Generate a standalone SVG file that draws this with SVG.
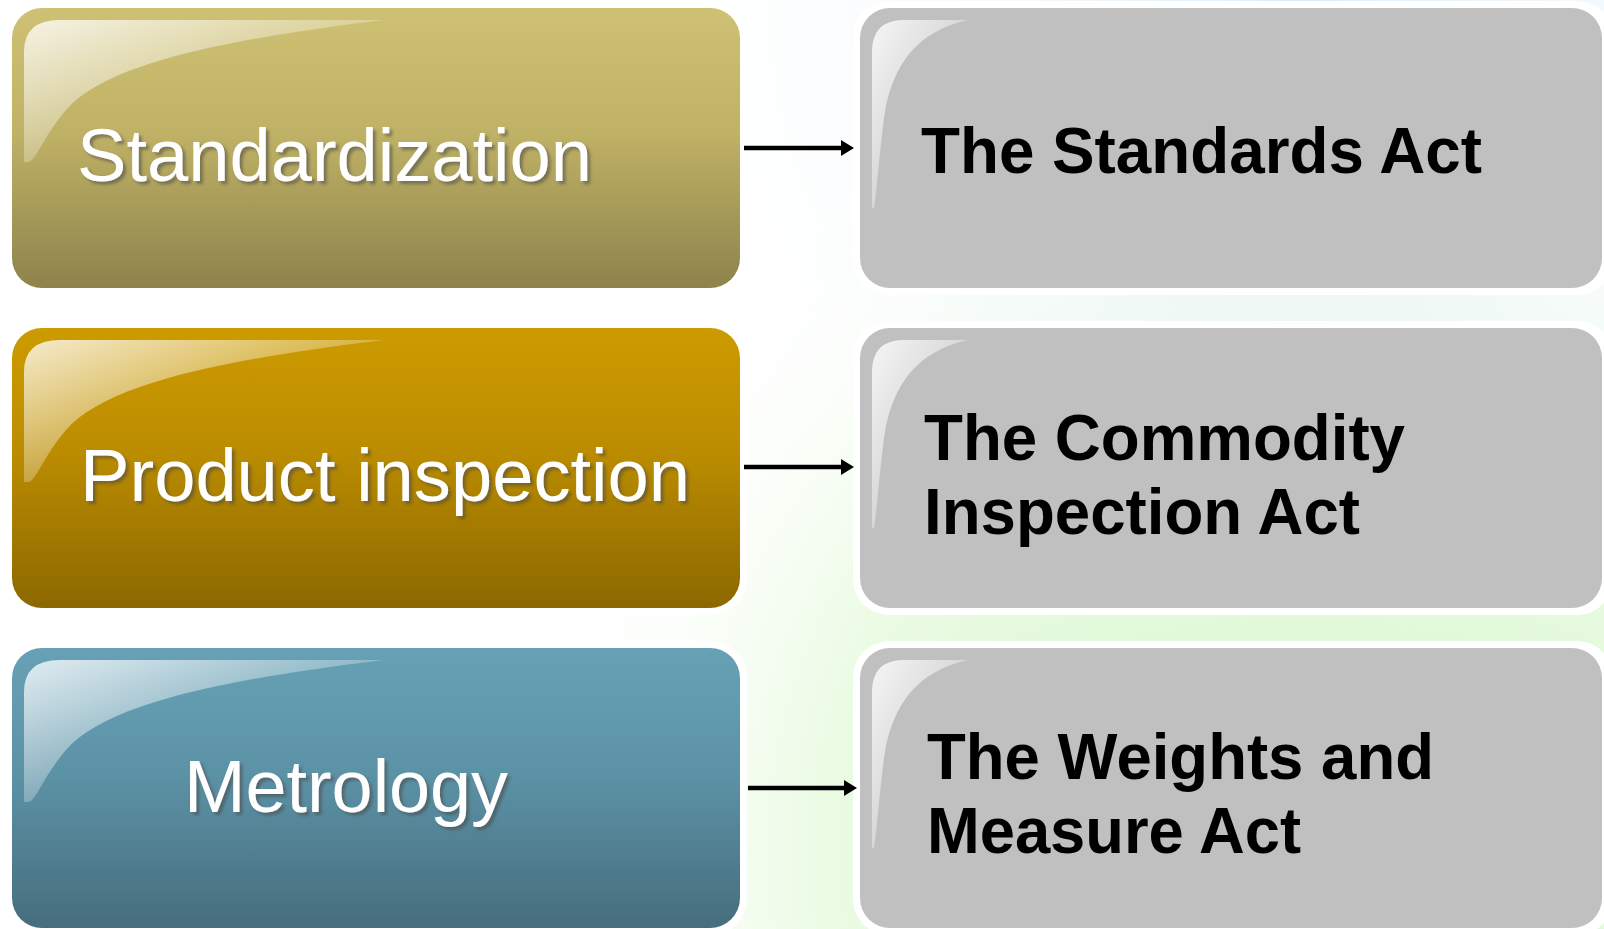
<svg xmlns="http://www.w3.org/2000/svg" width="1604" height="929" viewBox="0 0 1604 929">
<defs>
<style>
.lt{font-family:"Liberation Sans",Arial,sans-serif;font-size:75px;fill:#fff;filter:url(#sh)}
.rt{font-family:"Liberation Sans",Arial,sans-serif;font-size:64px;font-weight:bold;fill:#000}
.frame{fill:#fff}
.gray{fill:#c0c0c0}
.conn{stroke:#000;stroke-width:4.5;fill:none;marker-end:url(#ah)}
</style>
<filter id="sh" x="-5%" y="-20%" width="115%" height="150%">
<feDropShadow dx="3" dy="3" stdDeviation="1.5" flood-color="#4a4a4a" flood-opacity="0.55"/>
</filter>
<marker id="ah" markerUnits="userSpaceOnUse" markerWidth="13" markerHeight="16" refX="2" refY="8" orient="auto">
<path d="M0,0 L13,8 L0,16 Z" fill="#000"/>
</marker>
<linearGradient id="g1" x1="0" y1="0" x2="0" y2="1">
<stop offset="0" stop-color="#cfc174"/><stop offset="0.45" stop-color="#bfb165"/><stop offset="1" stop-color="#8d834c"/>
</linearGradient>
<linearGradient id="g2" x1="0" y1="0" x2="0" y2="1">
<stop offset="0" stop-color="#cd9b00"/><stop offset="0.45" stop-color="#bb8c00"/><stop offset="1" stop-color="#8b6800"/>
</linearGradient>
<linearGradient id="g3" x1="0" y1="0" x2="0" y2="1">
<stop offset="0" stop-color="#67a1b6"/><stop offset="0.45" stop-color="#5c92a6"/><stop offset="1" stop-color="#466e7d"/>
</linearGradient>
<linearGradient id="hl" x1="0" y1="0" x2="0.75" y2="0.75">
<stop offset="0" stop-color="#fff" stop-opacity="0.8"/><stop offset="1" stop-color="#fff" stop-opacity="0"/>
</linearGradient>
<linearGradient id="hl2" x1="0" y1="0" x2="0.9" y2="0.9">
<stop offset="0" stop-color="#fff" stop-opacity="0.85"/><stop offset="1" stop-color="#fff" stop-opacity="0"/>
</linearGradient>
<radialGradient id="sky" cx="1300" cy="0" r="700" gradientUnits="userSpaceOnUse">
<stop offset="0" stop-color="#dcecf8"/><stop offset="1" stop-color="#ffffff" stop-opacity="0"/>
</radialGradient>
<radialGradient id="grass" cx="1300" cy="850" r="800" gradientUnits="userSpaceOnUse">
<stop offset="0" stop-color="#d4f6c8"/><stop offset="0.6" stop-color="#ebfbe4"/><stop offset="1" stop-color="#ffffff" stop-opacity="0"/>
</radialGradient>
<path id="hlL" d="M371,12 C228,30 98,52 54,102 C30,130 24,154 16,154 L12,154 L12,44 Q12,12 48,12 Z"/>
<path id="hlR" d="M108,12 C62,22 32,52 24,110 C19,150 16,190 14,200 L12,200 L12,44 Q12,12 44,12 Z"/>
</defs>
<rect width="1604" height="929" fill="#fff"/>
<rect width="1604" height="929" fill="url(#grass)"/>
<rect width="1604" height="929" fill="url(#sky)"/>

<g id="node-standardization">
<rect class="frame" x="5" y="1" width="742" height="294" rx="36"/>
<rect x="12" y="8" width="728" height="280" rx="30" fill="url(#g1)"/>
<use href="#hlL" x="12" y="8" fill="url(#hl)"/>
<text class="lt" x="77" y="181" textLength="515" lengthAdjust="spacingAndGlyphs">Standardization</text>
</g>
<g id="node-product-inspection">
<rect class="frame" x="5" y="321" width="742" height="294" rx="36"/>
<rect x="12" y="328" width="728" height="280" rx="30" fill="url(#g2)"/>
<use href="#hlL" x="12" y="328" fill="url(#hl)"/>
<text class="lt" x="80" y="501" textLength="610" lengthAdjust="spacingAndGlyphs">Product inspection</text>
</g>
<g id="node-metrology">
<rect class="frame" x="5" y="641" width="742" height="294" rx="36"/>
<rect x="12" y="648" width="728" height="280" rx="30" fill="url(#g3)"/>
<use href="#hlL" x="12" y="648" fill="url(#hl)"/>
<text class="lt" x="184" y="812" textLength="324" lengthAdjust="spacingAndGlyphs">Metrology</text>
</g>

<g id="node-standards-act">
<rect class="frame" x="853" y="1" width="760" height="294" rx="36"/>
<rect class="gray" x="860" y="8" width="742" height="280" rx="30"/>
<use href="#hlR" x="860" y="8" fill="url(#hl2)"/>
<text class="rt" x="921" y="173" textLength="561" lengthAdjust="spacingAndGlyphs">The Standards Act</text>
</g>
<g id="node-commodity-inspection-act">
<rect class="frame" x="853" y="321" width="760" height="294" rx="36"/>
<rect class="gray" x="860" y="328" width="742" height="280" rx="30"/>
<use href="#hlR" x="860" y="328" fill="url(#hl2)"/>
<text class="rt" x="924" y="460" textLength="481" lengthAdjust="spacingAndGlyphs">The Commodity</text>
<text class="rt" x="924" y="534" textLength="436" lengthAdjust="spacingAndGlyphs">Inspection Act</text>
</g>
<g id="node-weights-measure-act">
<rect class="frame" x="853" y="641" width="760" height="294" rx="36"/>
<rect class="gray" x="860" y="648" width="742" height="280" rx="30"/>
<use href="#hlR" x="860" y="648" fill="url(#hl2)"/>
<text class="rt" x="927" y="779" textLength="507" lengthAdjust="spacingAndGlyphs">The Weights and</text>
<text class="rt" x="927" y="853" textLength="374" lengthAdjust="spacingAndGlyphs">Measure Act</text>
</g>

<g id="connectors">
<line class="conn" x1="744" y1="148" x2="843" y2="148"/>
<line class="conn" x1="744" y1="467" x2="843" y2="467"/>
<line class="conn" x1="748" y1="788" x2="846" y2="788"/>
</g>
</svg>
